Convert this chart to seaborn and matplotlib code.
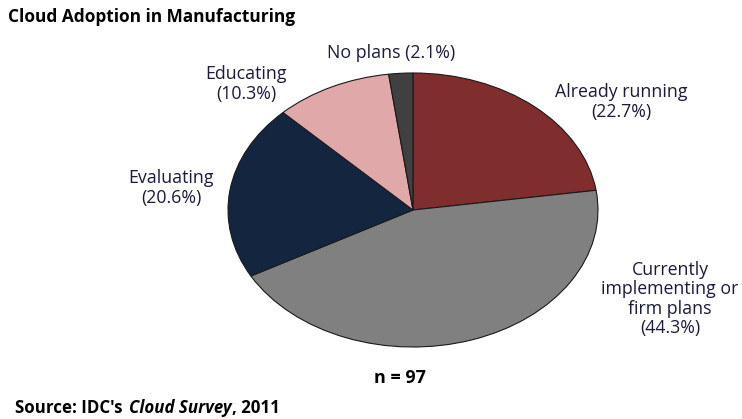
import matplotlib
matplotlib.use("Agg")
import matplotlib.pyplot as plt
import seaborn as sns

sns.set_theme(style="white")
plt.rcParams['font.family'] = ['Open Sans', 'DejaVu Sans']

categories = ["Already running", "Currently implementing or firm plans", "Evaluating", "Educating", "No plans"]
values = [22.7, 44.3, 20.6, 10.3, 2.1]
colors = ["#7F2E2D", "#808080", "#14253F", "#E0A8A8", "#404040"]
labels = ["Already running\n(22.7%)", "Currently\nimplementing or\nfirm plans\n(44.3%)",
          "Evaluating\n(20.6%)", "Educating\n(10.3%)", "No plans (2.1%)"]
label_pos = [(621, 102), (670, 299), (171, 188), (246, 84), (391, 53)]

W, H = 742, 419
fig = plt.figure(figsize=(W / 100, H / 100), dpi=100)
fig.patch.set_facecolor("white")

cx0, cx1, cy0, cy1 = 228, 598, 73, 347
ax = fig.add_axes([cx0 / W, 1 - cy1 / H, (cx1 - cx0) / W, (cy1 - cy0) / H])
ax.pie(values, colors=colors, startangle=90, counterclock=False,
       wedgeprops=dict(edgecolor="#1a1a1a", linewidth=0.8))
ax.set_aspect("auto")
ax.set_xlim(-1, 1)
ax.set_ylim(-1, 1)
ax.axis("off")

txtcol = "#1B1B3A"
for lab, (px, py) in zip(labels, label_pos):
    fig.text(px / W, 1 - py / H, lab, ha="center", va="center", fontsize=12.8,
             color=txtcol, linespacing=1.1)

fig.text(8 / W, 1 - 17 / H, "Cloud Adoption in Manufacturing", ha="left", va="center",
         fontsize=12.4, fontweight="bold", color="black")
fig.text(400 / W, 1 - 378 / H, "n = 97", ha="center", va="center",
         fontsize=13, fontweight="bold", color="black")

# Source line with italic part
fig.canvas.draw()
r = fig.canvas.get_renderer()
x = 15
parts = [("Source: IDC's ", "normal"), ("Cloud Survey", "italic"), (", 2011", "normal")]
for s, st in parts:
    t = fig.text(x / W, 1 - 408 / H, s, ha="left", va="center", fontsize=12.2,
                 fontweight="bold", fontstyle=st, color="black")
    bb = t.get_window_extent(renderer=r)
    x += bb.width + (2 if s.endswith(" ") else 0)

fig.savefig("out.png", dpi=100, facecolor="white")
